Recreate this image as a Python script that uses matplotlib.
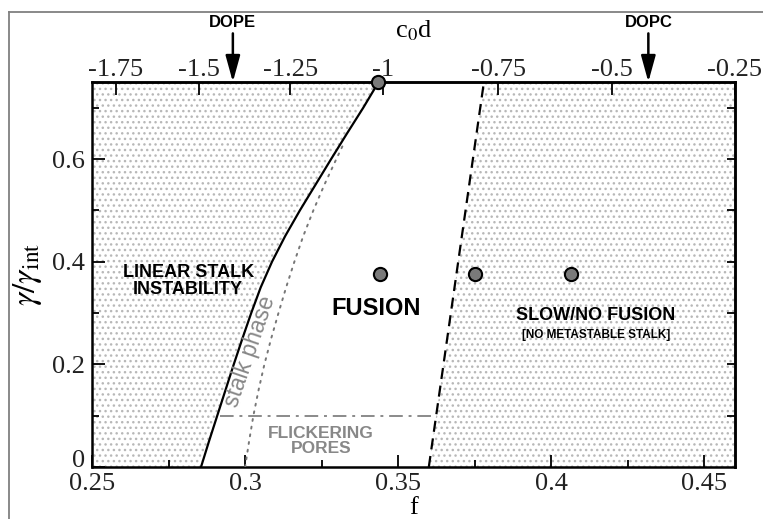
import numpy as np
import matplotlib
matplotlib.use("Agg")
import matplotlib.pyplot as plt
from matplotlib.lines import Line2D

plt.rcParams['mathtext.fontset'] = 'stix'
plt.rcParams['hatch.linewidth'] = 1.0

SERIF = 'Liberation Serif'
SANS = 'Liberation Sans'

# boundary of the linear stalk instability (solid line)
instab_y = [0.0, 0.05, 0.10, 0.15, 0.20, 0.25, 0.30, 0.35, 0.40, 0.45,
            0.50, 0.55, 0.60, 0.65, 0.70, 0.75]
instab_f = [0.2856, 0.2882, 0.2909, 0.2936, 0.2963, 0.2991, 0.3020, 0.3051,
            0.3088, 0.3131, 0.3179, 0.3230, 0.3281, 0.3333, 0.3386, 0.3436]

# stalk phase boundary (dotted line)
stalk_y = [0.0, 0.05, 0.10, 0.15, 0.20, 0.25, 0.30, 0.35, 0.40, 0.45,
           0.50, 0.55, 0.60, 0.63]
stalk_f = [0.3000, 0.3013, 0.3027, 0.3044, 0.3063, 0.3085, 0.3109, 0.3134,
           0.3161, 0.3190, 0.3223, 0.3259, 0.3298, 0.3322]

# metastable stalk limit (dashed line)
meta_y = [0.0, 0.75]
meta_f = [0.3600, 0.3780]

# flickering pores threshold (dash-dot line)
pores_y = 0.1
pores_f = [0.2918, 0.3622]

# simulated points
pts_f = [0.3435, 0.344, 0.375, 0.4065]
pts_y = [0.75, 0.375, 0.375, 0.375]

# lipid markers on the top axis
lipid_names = ['DOPE', 'DOPC']
lipid_f = [0.296, 0.4317]

# c0d scale on the top axis
c0d_pos = [0.2578, 0.2850, 0.3147, 0.3451, 0.3827, 0.4199, 0.4599]
c0d_labels = ['-1.75', '-1.5', '-1.25', '-1', '-0.75', '-0.5', '-0.25']

fig = plt.figure(figsize=(7.63, 5.19), dpi=100)
ax = fig.add_axes([0.1206, 0.1002, 0.8427, 0.7418])

# page frame
fig.add_artist(Line2D([9/763, 9/763], [0, 1 - 12/519], color='#808080', lw=1.3))
fig.add_artist(Line2D([9/763, 1], [1 - 12/519, 1 - 12/519], color='#808080', lw=1.3))

ax.set_xlim(0.25, 0.46)
ax.set_ylim(0, 0.75)

hatch_col = '#b8b8b8'
ax.fill_betweenx(instab_y, 0.25, instab_f, facecolor='white', edgecolor=hatch_col,
                 hatch='...', linewidth=0, zorder=0)
ax.fill_betweenx(meta_y, meta_f, 0.46, facecolor='white', edgecolor=hatch_col,
                 hatch='...', linewidth=0, zorder=0)

ax.plot(instab_f, instab_y, color='black', lw=1.6, zorder=3)
ax.plot(stalk_f, stalk_y, color='#777777', lw=1.4, ls=(0, (1, 3)),
        dash_capstyle='round', zorder=3)
ax.plot(meta_f, meta_y, color='black', lw=1.6, ls=(0, (5, 3)), zorder=3)
ax.plot(pores_f, [pores_y, pores_y], color='#8a8a8a', lw=1.4,
        ls=(0, (7, 3, 1.5, 3)), zorder=3)

ax.plot(pts_f, pts_y, 'o', ms=9.5, mfc='#7a7a7a', mec='black', mew=1.5,
        clip_on=False, zorder=5)

# region labels
ax.text(0.2814, 0.362, 'LINEAR STALK\nINSTABILITY', family=SANS, weight='bold',
        fontsize=13, ha='center', va='center', linespacing=1.0)
ax.text(0.3428, 0.309, 'FUSION', family=SANS, weight='bold', fontsize=17,
        ha='center', va='center')
ax.text(0.4144, 0.295, 'SLOW/NO FUSION', family=SANS, weight='bold',
        fontsize=13, ha='center', va='center')
ax.text(0.4147, 0.258, '[NO METASTABLE STALK]', family=SANS, weight='bold',
        fontsize=8.5, ha='center', va='center')
ax.text(0.3248, 0.05, 'FLICKERING\nPORES', family=SANS, weight='bold',
        fontsize=12.5, color='#888888', ha='center', va='center', linespacing=1.0)
ax.text(0.3015, 0.225, 'stalk phase', family=SANS, fontsize=16.5, color='#888888',
        rotation=71, ha='center', va='center', rotation_mode='anchor')

# ticks
ax.set_xticks([0.25, 0.3, 0.35, 0.4, 0.45])
ax.set_xticklabels(['0.25', '0.3', '0.35', '0.4', '0.45'])
ax.set_xticks(np.arange(0.275, 0.46, 0.05), minor=True)
ax.set_yticks([0, 0.2, 0.4, 0.6])
ax.set_yticklabels(['0', '0.2', '0.4', '0.6'])
ax.set_yticks([0.1, 0.3, 0.5, 0.7], minor=True)
ax.tick_params(which='both', direction='in', width=1.3, top=False, right=False)
ax.tick_params(which='major', length=9)
ax.tick_params(which='minor', length=5)
ax.tick_params(axis='x', pad=4)
ax.tick_params(axis='y', pad=5)
for lab in ax.get_xticklabels() + ax.get_yticklabels():
    lab.set_family(SERIF)
    lab.set_fontsize(19)
    lab.set_color('#222222')
# keep the y "0" clear of the x "0.25" below it
ax.yaxis.get_major_ticks()[0].label1.set_va('baseline')

for sp in ax.spines.values():
    sp.set_linewidth(1.8)

right = ax.secondary_yaxis('right')
right.set_yticks([0.1, 0.2, 0.3, 0.4, 0.5, 0.6, 0.7])
right.tick_params(direction='in', length=6, width=1.3, labelright=False)
right.spines['right'].set_linewidth(1.8)

top = ax.secondary_xaxis('top')
top.set_xticks(c0d_pos)
top.set_xticklabels(c0d_labels)
top.tick_params(direction='in', length=9, width=1.3, pad=1)
top.spines['top'].set_linewidth(1.8)
for lab in top.get_xticklabels():
    lab.set_family(SERIF)
    lab.set_fontsize(19)
    lab.set_color('#222222')

ax.set_xlabel('f', family=SERIF, fontsize=19)
ax.xaxis.set_label_coords(0.5, -0.078)
ax.set_ylabel(r'$\gamma/\gamma_{\mathrm{int}}$', fontsize=24)
ax.yaxis.set_label_coords(-0.074, 0.5)
ax.text(0.5, 1.117, r'c$_0$d', transform=ax.transAxes, family=SERIF, fontsize=19,
        ha='center', va='baseline')

# lipid arrows
for name, f in zip(lipid_names, lipid_f):
    ax.annotate('', xy=(f, 0.75), xytext=(0, 35), textcoords='offset points',
                arrowprops=dict(arrowstyle='-|>,head_length=0.8,head_width=0.22',
                                mutation_scale=20, color='black', lw=1.8,
                                shrinkA=0, shrinkB=0),
                annotation_clip=False, zorder=6)
    ax.annotate(name, xy=(f, 0.75), xytext=(0, 43), textcoords='offset points',
                family=SANS, weight='bold', fontsize=12, ha='center',
                va='center', annotation_clip=False)

fig.savefig('out.png', dpi=100)
